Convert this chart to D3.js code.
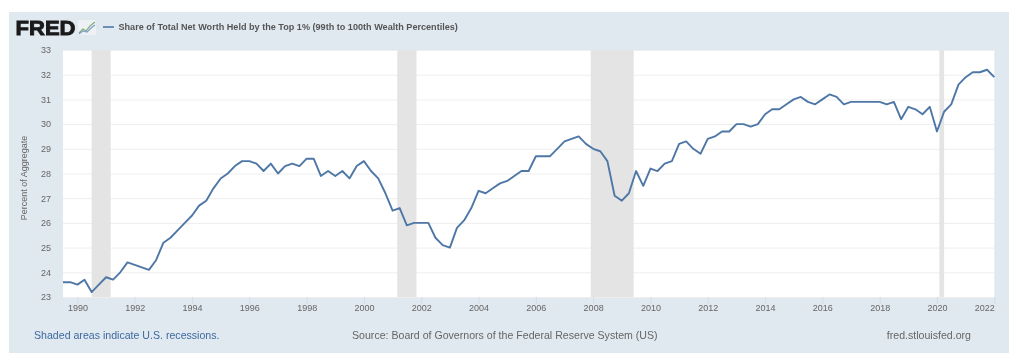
<!DOCTYPE html>
<html>
<head>
<meta charset="utf-8">
<script src="https://cdn.jsdelivr.net/npm/d3@7"></script>
<style>
  html, body { margin: 0; padding: 0; background: #fff; }
  svg { display: block; filter: blur(0.4px); }
  text { font-family: "Liberation Sans", Arial, sans-serif; }
  .axis path { display: none; }
  .y.axis line { stroke: #eeeeee; }
  .x.axis line { stroke: #d3dde7; }
  .axis text { fill: #666; font-size: 9px; }
</style>
</head>
<body>
<div id="chart"></div>
<script>
// quarterly, first value is 1989 Q3
var START = "1989-07-01";
var share = [
  23.6, 23.6, 23.5, 23.7, 23.2, 23.5, 23.8, 23.7, 24.0, 24.4,
  24.3, 24.2, 24.1, 24.5, 25.2, 25.4, 25.7, 26.0, 26.3, 26.7,
  26.9, 27.4, 27.8, 28.0, 28.3, 28.5, 28.5, 28.4, 28.1, 28.4,
  28.0, 28.3, 28.4, 28.3, 28.6, 28.6, 27.9, 28.1, 27.9, 28.1,
  27.8, 28.3, 28.5, 28.1, 27.8, 27.2, 26.5, 26.6, 25.9, 26.0,
  26.0, 26.0, 25.4, 25.1, 25.0, 25.8, 26.1, 26.6, 27.3, 27.2,
  27.4, 27.6, 27.7, 27.9, 28.1, 28.1, 28.7, 28.7, 28.7, 29.0,
  29.3, 29.4, 29.5, 29.2, 29.0, 28.9, 28.5, 27.1, 26.9, 27.2,
  28.1, 27.5, 28.2, 28.1, 28.4, 28.5, 29.2, 29.3, 29.0, 28.8,
  29.4, 29.5, 29.7, 29.7, 30.0, 30.0, 29.9, 30.0, 30.4, 30.6,
  30.6, 30.8, 31.0, 31.1, 30.9, 30.8, 31.0, 31.2, 31.1, 30.8,
  30.9, 30.9, 30.9, 30.9, 30.9, 30.8, 30.9, 30.2, 30.7, 30.6,
  30.4, 30.7, 29.7, 30.5, 30.8, 31.6, 31.9, 32.1, 32.1, 32.2,
  31.9
];
var recessionStarts = ["1990-07-01", "2001-03-01", "2007-12-01", "2020-02-01"];
var recessionEnds = ["1991-03-01", "2001-11-01", "2009-06-01", "2020-04-01"];
var yTicks = [23, 24, 25, 26, 27, 28, 29, 30, 31, 32, 33];
var xTickYears = [1990, 1992, 1994, 1996, 1998, 2000, 2002, 2004, 2006, 2008, 2010, 2012, 2014, 2016, 2018, 2020, 2022];

var svgWidth = 1017, svgHeight = 361;
var margin = {top: 50, right: 22.7, bottom: 64, left: 63},
    width = svgWidth - margin.left - margin.right,
    height = svgHeight - margin.top - margin.bottom;

var parseDate = d3.utcParse("%Y-%m-%d");
var startDate = parseDate(START);
var dates = share.map(function(d, i) { return d3.utcMonth.offset(startDate, i * 3); });

var x = d3.scaleUtc()
    .domain([startDate, dates[dates.length - 1]])
    .range([0, width]);

var y = d3.scaleLinear()
    .domain([23, 33])
    .range([height, 0]);

var root = d3.select("#chart").append("svg")
    .attr("width", svgWidth)
    .attr("height", svgHeight);

root.append("rect")
    .attr("x", 9)
    .attr("y", 12)
    .attr("width", 1000)
    .attr("height", 341)
    .attr("fill", "#e0e8f0");

// logo
root.append("text")
    .attr("x", 15.5)
    .attr("y", 35)
    .attr("font-size", 20.5)
    .attr("font-weight", "bold")
    .attr("fill", "#1a1a1a")
    .attr("stroke", "#1a1a1a")
    .attr("stroke-width", 0.9)
    .attr("textLength", 60)
    .attr("lengthAdjust", "spacingAndGlyphs")
    .text("FRED");

var logo = root.append("g").attr("transform", "translate(78,20)");
logo.append("rect").attr("width", 18).attr("height", 15).attr("fill", "#eef1f3");
logo.append("path").attr("d", "M1 13L5 9L8 11L12 6L17 2").attr("fill", "none").attr("stroke", "#7fae7a").attr("stroke-width", 1.2);
logo.append("path").attr("d", "M1 14L5 11L9 12L13 8L17 5").attr("fill", "none").attr("stroke", "#7f9fc4").attr("stroke-width", 1.2);

// legend
root.append("line")
    .attr("x1", 103)
    .attr("x2", 114)
    .attr("y1", 27)
    .attr("y2", 27)
    .attr("stroke", "#4572a7")
    .attr("stroke-width", 1.5);

root.append("text")
    .attr("x", 118.5)
    .attr("y", 30)
    .attr("font-size", 9.1)
    .attr("font-weight", "bold")
    .attr("fill", "#555")
    .text("Share of Total Net Worth Held by the Top 1% (99th to 100th Wealth Percentiles)");

var svg = root.append("g")
    .attr("transform", "translate(" + margin.left + "," + margin.top + ")");

svg.append("rect")
    .attr("width", width)
    .attr("height", height)
    .attr("fill", "#fff");

var yAxis = d3.axisLeft(y)
    .tickValues(yTicks)
    .tickSize(-width)
    .tickPadding(12)
    .tickFormat(d3.format("d"));

svg.append("g")
    .attr("class", "y axis")
    .call(yAxis);

svg.selectAll(".recession")
    .data(recessionStarts)
  .enter().append("rect")
    .attr("class", "recession")
    .attr("x", function(d) { return x(parseDate(d)); })
    .attr("y", 0)
    .attr("width", function(d, i) { return x(parseDate(recessionEnds[i])) - x(parseDate(d)); })
    .attr("height", height)
    .attr("fill", "#e4e4e4");

var xAxis = d3.axisBottom(x)
    .tickValues(xTickYears.map(function(d) { return new Date(Date.UTC(d, 0, 1)); }))
    .tickSize(7)
    .tickPadding(1)
    .tickFormat(d3.utcFormat("%Y"));

var xAxisG = svg.append("g")
    .attr("class", "x axis")
    .attr("transform", "translate(0," + height + ")")
    .call(xAxis);

// last label is pulled in so it stays inside the plot
xAxisG.selectAll(".tick text")
    .filter(function(d) { return d.getUTCFullYear() === 2022; })
    .attr("text-anchor", "end");

var line = d3.line()
    .x(function(d, i) { return x(dates[i]); })
    .y(function(d) { return y(d); });

svg.append("path")
    .datum(share)
    .attr("fill", "none")
    .attr("stroke", "#4f77a6")
    .attr("stroke-width", 1.9)
    .attr("stroke-linejoin", "round")
    .attr("d", line);

root.append("text")
    .attr("transform", "translate(26.5,178) rotate(-90)")
    .attr("text-anchor", "middle")
    .attr("font-size", 9)
    .attr("fill", "#666")
    .text("Percent of Aggregate");

root.append("text")
    .attr("x", 34)
    .attr("y", 339)
    .attr("font-size", 10.6)
    .attr("fill", "#3e6a9e")
    .text("Shaded areas indicate U.S. recessions.");

root.append("text")
    .attr("x", 352)
    .attr("y", 339)
    .attr("font-size", 10.6)
    .attr("fill", "#666")
    .text("Source: Board of Governors of the Federal Reserve System (US)");

root.append("text")
    .attr("x", 971)
    .attr("y", 339)
    .attr("font-size", 10.6)
    .attr("text-anchor", "end")
    .attr("fill", "#666")
    .text("fred.stlouisfed.org");
</script>
</body>
</html>
